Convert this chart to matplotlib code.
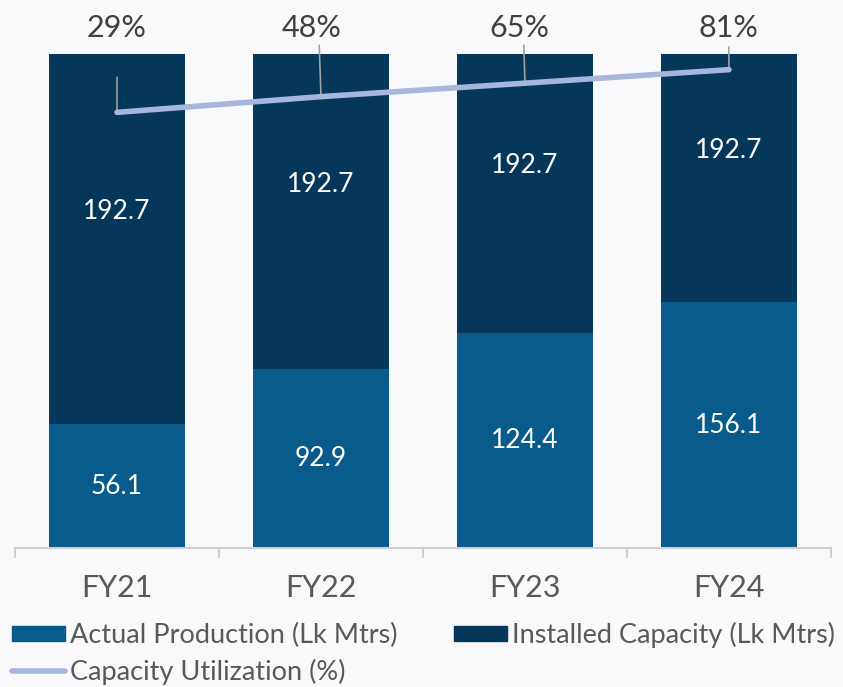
import matplotlib.pyplot as plt
import numpy as np
from matplotlib.patches import Patch
from matplotlib.lines import Line2D

# data
years = ['FY21', 'FY22', 'FY23', 'FY24']
actual = [56.1, 92.9, 124.4, 156.1]      # Actual Production (Lk Mtrs)
installed = [192.7, 192.7, 192.7, 192.7]  # Installed Capacity (Lk Mtrs)

# colours
c_actual = '#085B8A'
c_inst = '#05375A'
c_line = '#A8B5DC'
bg = '#F9F9FB'

plt.rcParams['font.family'] = ['Lato', 'DejaVu Sans']

act = np.array(actual)
ins = np.array(installed)
tot = act + ins
a_frac = act / tot          # 100% stacked shares
i_frac = ins / tot
util = act / ins * 100      # capacity utilization

fig = plt.figure(figsize=(8.43, 6.87), dpi=100, facecolor=bg)
ax = fig.add_axes([15/843, 139/687, 816/843, 494/687])
ax.set_facecolor(bg)

x = np.arange(len(years))
w = 0.667
ax.bar(x, a_frac, w, color=c_actual, edgecolor='none')
ax.bar(x, i_frac, w, bottom=a_frac, color=c_inst, edgecolor='none')

for i in range(len(years)):
    ax.text(x[i], a_frac[i] / 2, f'{actual[i]:.1f}', ha='center', va='center',
            color='white', fontsize=19)
    ax.text(x[i], a_frac[i] + i_frac[i] / 2, f'{installed[i]:.1f}', ha='center',
            va='center', color='white', fontsize=19)

ax.set_xlim(-0.5, len(years) - 0.5)
ax.set_ylim(0, 0.9)
ax.set_yticks([])
for s in ['top', 'right', 'left']:
    ax.spines[s].set_visible(False)
ax.spines['bottom'].set_color('#D0D0D0')
ax.spines['bottom'].set_linewidth(1.5)
ax.set_xticks(x)
ax.set_xticklabels(years, fontsize=22, color='#595959')
ax.tick_params(axis='x', which='major', length=0, pad=19)
ax.set_xticks(np.arange(-0.5, len(years)), minor=True)
ax.tick_params(axis='x', which='minor', length=7, width=1.5, color='#D0D0D0')

# utilization line on hidden secondary axis
ax2 = ax.twinx()
ax2.set_ylim(-500, 100)
ax2.axis('off')

lab_dx = [0, -0.044, -0.03, -0.005]
lead_y = [0.953, 1.018, 1.018, 1.014]
for i in range(len(years)):
    ax2.annotate('', xy=(x[i], util[i]), xycoords='data',
                 xytext=(x[i] + lab_dx[i] * 0.2, lead_y[i]),
                 textcoords=('data', 'axes fraction'),
                 arrowprops=dict(arrowstyle='-', color='#A0A0A0', lw=1.2,
                                 shrinkA=0, shrinkB=0), zorder=2)
    ax2.text(x[i] + lab_dx[i], 1.052, f'{util[i]:.0f}%', transform=ax2.get_xaxis_transform(),
             ha='center', va='center', fontsize=22, color='#404040')

ax2.plot(x, util, color=c_line, lw=4, solid_capstyle='round', zorder=3)

handles = [Patch(color=c_actual), Line2D([], [], color=c_line, lw=4, solid_capstyle='round'),
           Patch(color=c_inst)]
labels = ['Actual Production (Lk Mtrs)', 'Capacity Utilization (%)', 'Installed Capacity (Lk Mtrs)']
fig.legend(handles, labels, ncol=2, loc='upper left', bbox_to_anchor=(12/843, 1 - 622/687),
           frameon=False, handlelength=1.95, handleheight=0.52,
           handletextpad=0.18, columnspacing=2.1, labelspacing=0.4,
           borderaxespad=0, borderpad=0, labelcolor='#595959',
           prop={'size': 19.5})

fig.savefig('out.png', dpi=100, facecolor=bg)
